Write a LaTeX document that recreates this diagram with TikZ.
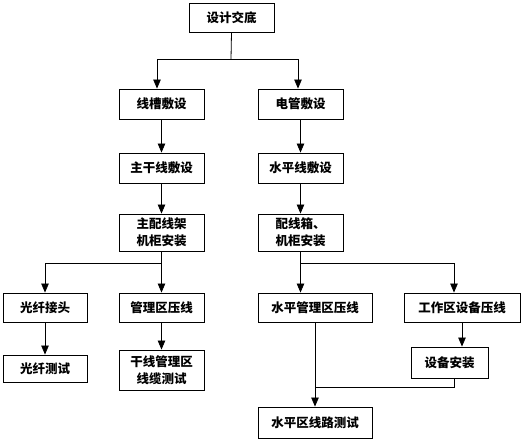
\documentclass[tikz,border=0pt]{standalone}
\usepackage{fontspec}
\newfontfamily\cjk{Noto Sans CJK SC}
\usetikzlibrary{arrows.meta}
\begin{document}
\begin{tikzpicture}[x=1pt,y=-1pt,
  box/.style={draw,line width=0.9pt,inner sep=0pt,align=center,
    font=\cjk\bfseries\fontsize{12.5}{17}\selectfont},
  conn/.style={line width=0.8pt},
  arr/.style={conn,-{Triangle[length=9pt,width=7.5pt]}}]
\useasboundingbox (0,0) rectangle (528,444);
\node[box,minimum width=85,minimum height=29] (n1) at (231.5,17.5) {设计交底};
\node[box,minimum width=85,minimum height=30] (n2) at (161.5,104) {线槽敷设};
\node[box,minimum width=85,minimum height=30] (n3) at (300.5,104) {电管敷设};
\node[box,minimum width=85,minimum height=30] (n4) at (161.5,168) {主干线敷设};
\node[box,minimum width=85,minimum height=30] (n5) at (300.5,168) {水平线敷设};
\node[box,minimum width=85,minimum height=37] (n6) at (161.5,232.5) {主配线架\\机柜安装};
\node[box,minimum width=85,minimum height=37] (n7) at (300.5,232.5) {配线箱、\\机柜安装};
\node[box,minimum width=84,minimum height=29] (n8) at (45,307.5) {光纤接头};
\node[box,minimum width=85,minimum height=29] (n9) at (161.5,307.5) {管理区压线};
\node[box,minimum width=114,minimum height=29] (n10) at (315,307.5) {水平管理区压线};
\node[box,minimum width=116,minimum height=29] (n11) at (462,307.5) {工作区设备压线};
\node[box,minimum width=84,minimum height=27] (n12) at (45,368.5) {光纤测试};
\node[box,minimum width=85,minimum height=40] (n13) at (161.5,370) {干线管理区\\线缆测试};
\node[box,minimum width=77,minimum height=31] (n14) at (449.5,362.5) {设备安装};
\node[box,minimum width=114,minimum height=31] (n15) at (315,422.5) {水平区线路测试};
% top split
\coordinate (j1) at (231,59);
\draw[conn] (n1.south) -- (j1);
\draw[arr] (j1) -| ([xshift=-4.5]n2.north);
\draw[arr] (j1) -| ([xshift=-2.5]n3.north);
% vertical chains
\draw[arr] (n2) -- (n4);
\draw[arr] (n3) -- (n5);
\draw[arr] (n4) -- (n6);
\draw[arr] (n5) -- (n7);
% left split
\coordinate (j2) at (161.5,263);
\draw[conn] (n6.south) -- (j2);
\draw[arr] (j2) -| (n8.north);
\draw[arr] (j2) -- (n9.north);
% right split
\coordinate (j3) at (300.5,263);
\draw[conn] (n7.south) -- (j3);
\draw[arr] (j3) -- (n10.north -| j3);
\draw[arr] (j3) -| ([xshift=-8]n11.north);
% lower chains
\draw[arr] (n8) -- (n12);
\draw[arr] (n9) -- (n13);
\draw[arr] (n11.south) -- (n11.south |- n14.north);
% merge to n15
\draw[arr] (n10) -- (n15);
\coordinate (j4) at (315,387);
\draw[conn] ([xshift=4.5]n14.south) |- (j4);
\end{tikzpicture}
\end{document}
